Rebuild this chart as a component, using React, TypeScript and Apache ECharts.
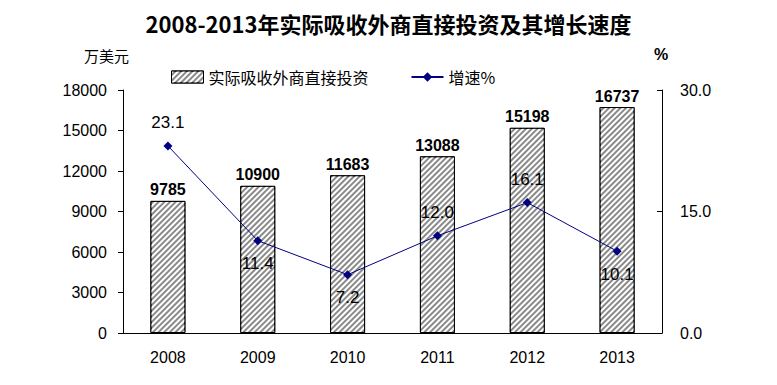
import React, { useEffect, useRef } from "react";
import * as echarts from "echarts";

const years = ["2008", "2009", "2010", "2011", "2012", "2013"];
const investment = [9785, 10900, 11683, 13088, 15198, 16737];
const growth = [23.1, 11.4, 7.2, 12.0, 16.1, 10.1];
const growthLabelPos = ["top", "bottom", "bottom", "top", "top", "bottom"];

export default function App() {
  const ref = useRef<HTMLDivElement>(null);
  useEffect(() => {
    const chart = echarts.init(ref.current!, undefined, { renderer: "svg" });
    const font = "Arial, 'Liberation Sans', sans-serif";
    const decal = { symbol: "rect", color: "#ffffff", dashArrayX: [1, 0], dashArrayY: [1.5, 2], rotation: -Math.PI / 4 };
    chart.setOption({
      animation: false,
      backgroundColor: "#fff",
      title: {
        text: "2008-2013年实际吸收外商直接投资及其增长速度",
        left: "center",
        top: 7,
        textStyle: { fontSize: 22, fontWeight: "bold", color: "#000", fontFamily: "'Noto Sans CJK SC', sans-serif" },
      },
      graphic: [
        { type: "text", left: 84, top: 48, style: { text: "万美元", fontSize: 15, fill: "#000", fontFamily: "'Noto Sans CJK SC', sans-serif" } },
        { type: "text", left: 654, top: 46, style: { text: "%", fontSize: 16, fontWeight: "bold", fill: "#000", fontFamily: font } },
      ],
      legend: {
        top: 64,
        left: 166,
        itemGap: 42,
        textStyle: { fontSize: 16, color: "#000", fontFamily: "'Noto Sans CJK SC', sans-serif" },
        data: [
          { name: "实际吸收外商直接投资", icon: "rect", itemStyle: { color: "#8a8a8a", borderColor: "#000", borderWidth: 1, decal } },
          { name: "增速%" },
        ],
        itemWidth: 32,
        itemHeight: 12,
      },
      grid: { left: 123, right: 115, top: 90, bottom: 52 },
      xAxis: {
        type: "category",
        data: years,
        axisLine: { lineStyle: { color: "#000", width: 1 } },
        axisTick: { inside: true, length: 5, lineStyle: { color: "#000" } },
        axisLabel: { fontSize: 16, color: "#000", margin: 16, fontFamily: font },
      },
      yAxis: [
        {
          type: "value",
          min: 0,
          max: 18000,
          interval: 3000,
          axisLine: { show: true, lineStyle: { color: "#000" } },
          axisTick: { show: true, length: 5, lineStyle: { color: "#000" } },
          splitLine: { show: false },
          axisLabel: { fontSize: 16, color: "#000", margin: 16, fontFamily: font, formatter: (v: number) => String(v) },
        },
        {
          type: "value",
          min: 0,
          max: 30,
          interval: 15,
          position: "right",
          axisLine: { show: true, lineStyle: { color: "#000" } },
          axisTick: { show: true, inside: true, length: 5, lineStyle: { color: "#000" } },
          splitLine: { show: false },
          axisLabel: { fontSize: 16, color: "#000", margin: 18, fontFamily: font, formatter: (v: number) => v.toFixed(1) },
        },
      ],
      series: [
        {
          name: "实际吸收外商直接投资",
          type: "bar",
          data: investment,
          barWidth: 35,
          itemStyle: { color: "#8a8a8a", borderColor: "#000", borderWidth: 1, decal },
          label: { show: true, position: "top", distance: 3, fontSize: 16, fontWeight: "bold", color: "#000", fontFamily: font },
        },
        {
          name: "增速%",
          type: "line",
          yAxisIndex: 1,
          data: growth.map((v, i) => ({ value: v, label: { position: growthLabelPos[i] } })),
          symbol: "diamond",
          symbolSize: 9,
          lineStyle: { color: "#000080", width: 1 },
          itemStyle: { color: "#000080" },
          label: { show: true, distance: 10, fontSize: 17, color: "#000", fontFamily: font, formatter: (p: any) => Number(p.value).toFixed(1) },
        },
      ],
    });
    return () => chart.dispose();
  }, []);
  return <div ref={ref} style={{ width: 777, height: 385, position: "absolute", left: 0, top: 0 }} />;
}
